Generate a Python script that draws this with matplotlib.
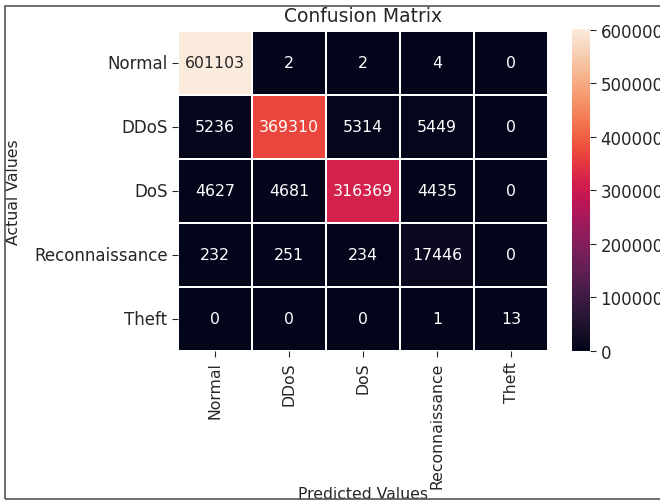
import numpy as np
import matplotlib
matplotlib.use("Agg")
import matplotlib.pyplot as plt
import matplotlib.patches as mpatches
import seaborn as sns

labels = ["Normal", "DDoS", "DoS", "Reconnaissance", "Theft"]

# rows = actual class, columns = predicted class
row_normal = [601103, 2, 2, 4, 0]
row_ddos = [5236, 369310, 5314, 5449, 0]
row_dos = [4627, 4681, 316369, 4435, 0]
row_recon = [232, 251, 234, 17446, 0]
row_theft = [0, 0, 0, 1, 13]

cm = np.array([row_normal, row_ddos, row_dos, row_recon, row_theft])

plt.rcParams["text.color"] = "#262626"
plt.rcParams["axes.labelcolor"] = "#262626"
plt.rcParams["xtick.color"] = "#262626"
plt.rcParams["ytick.color"] = "#262626"

W, H = 660, 502
fig = plt.figure(figsize=(W / 100, H / 100), dpi=100)

def px_axes(x0, y0, x1, y1):
    return fig.add_axes([x0 / W, 1 - y1 / H, (x1 - x0) / W, (y1 - y0) / H])

ax = px_axes(178, 32, 548, 352)
cax = px_axes(572, 30, 590, 352)

fs = 11.3
tfs = 12
sns.heatmap(cm, annot=True, fmt="d", cmap="rocket", linewidths=1.1, linecolor="white",
            xticklabels=labels, yticklabels=labels, ax=ax, cbar_ax=cax,
            annot_kws={"fontsize": fs})

ax.set_title("Confusion Matrix", fontsize=13.5, pad=7)
ax.set_xlabel("Predicted Values", fontsize=fs)
ax.xaxis.set_label_coords(0.5, (352 - 487) / 320)
ax.set_ylabel("Actual Values", fontsize=fs, labelpad=9)
ax.tick_params(axis="x", labelsize=fs, rotation=90, length=4)
ax.tick_params(axis="y", labelsize=tfs, rotation=0, length=4)
cax.tick_params(labelsize=tfs, length=4)
cax.yaxis.set_major_formatter(matplotlib.ticker.FuncFormatter(lambda v, p: f"{int(v)}"))

# thin frame around the figure
fig.patches.append(mpatches.Rectangle((5 / W, 1 - 500 / H), 700 / W, 493 / H,
                                      transform=fig.transFigure, fill=False,
                                      edgecolor="#555555", linewidth=1.2))

fig.savefig("out.png", dpi=100)
